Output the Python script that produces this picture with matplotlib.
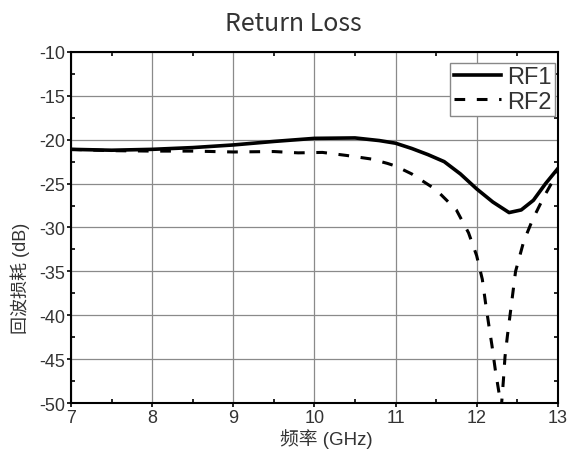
import matplotlib
matplotlib.use("Agg")
import matplotlib.pyplot as plt
from matplotlib.ticker import MultipleLocator

# values
rf1_freq = [7.0, 7.5, 8.0, 8.5, 9.0, 9.5, 10.0, 10.5, 10.8, 11.0, 11.2, 11.4,
            11.6, 11.8, 12.0, 12.2, 12.4, 12.55, 12.7, 12.85, 13.0]
rf1_loss = [-21.1, -21.2, -21.1, -20.9, -20.6, -20.2, -19.85, -19.8, -20.1, -20.4,
            -21.0, -21.7, -22.5, -23.9, -25.6, -27.1, -28.3, -28.0, -26.9, -25.0, -23.3]

rf2_freq = [7.0, 7.5, 8.0, 8.5, 9.0, 9.5, 9.8, 10.1, 10.4, 10.7, 10.9, 11.0, 11.2,
            11.5, 11.75, 11.9, 12.0, 12.07, 12.11, 12.15, 12.19, 12.23, 12.27, 12.305,
            12.33, 12.35, 12.38, 12.42, 12.48, 12.58, 12.69, 12.83, 13.0]
rf2_loss = [-21.1, -21.25, -21.3, -21.3, -21.4, -21.35, -21.5, -21.45, -21.8, -22.2,
            -22.7, -23.0, -23.9, -25.7, -28.0, -30.6, -33.2, -35.9, -38.6, -41.1,
            -43.5, -46.2, -48.5, -50.4, -47.4, -44.7, -42.3, -39.4, -35.0, -31.6,
            -29.1, -26.5, -23.7]

labels = ["RF1", "RF2"]
x_ticks = [7, 8, 9, 10, 11, 12, 13]
y_ticks = [-50, -45, -40, -35, -30, -25, -20, -15, -10]

plt.rcParams['axes.unicode_minus'] = False
tick_font = ['Liberation Sans', 'Noto Sans CJK SC']
text_color = '#333333'

fig = plt.figure(figsize=(5.75, 4.52), dpi=100)
ax = fig.add_axes([0.1235, 0.106, 0.8465, 0.777])

ax.plot(rf1_freq, rf1_loss, color='black', lw=2.6, label=labels[0])
ax.plot(rf2_freq, rf2_loss, color='black', lw=2.2, dashes=(3.5, 3.8), label=labels[1])

ax.set_xlim(7, 13)
ax.set_ylim(-50, -10)
ax.set_xticks(x_ticks)
ax.set_yticks(y_ticks)
ax.xaxis.set_minor_locator(MultipleLocator(0.5))
ax.yaxis.set_minor_locator(MultipleLocator(2.5))
ax.grid(True, which='major', color='#8a8a8a', lw=0.9)
ax.set_axisbelow(True)

ax.tick_params(which='major', direction='out', length=3, width=1.2,
               labelsize=13, labelcolor=text_color, pad=1)
ax.tick_params(which='minor', direction='in', length=3, width=1.2,
               top=True, right=True)
for lab in ax.get_xticklabels() + ax.get_yticklabels():
    lab.set_family(tick_font)
for sp in ax.spines.values():
    sp.set_linewidth(1.5)

leg = ax.legend(loc='upper right', bbox_to_anchor=(0.994, 0.969), borderaxespad=0,
                fancybox=False, framealpha=1, edgecolor='#888888',
                prop={'family': tick_font, 'size': 17}, handlelength=2.0,
                handletextpad=0.25, labelspacing=0.1, borderpad=0.15)
for t in leg.get_texts():
    t.set_color(text_color)

fig.text(0.51, 0.946, "Return Loss", ha='center', va='center', fontsize=18,
         color=text_color, family=['Noto Sans CJK SC', 'DejaVu Sans'])
fig.text(0.567, 0.028, "频率 (GHz)", ha='center', va='center', fontsize=13.5,
         color=text_color, family=['Liberation Sans', 'Noto Sans CJK SC'])
fig.text(0.035, 0.385, "回波损耗 (dB)", ha='center', va='center', rotation=90,
         fontsize=13, color=text_color, family=['Liberation Sans', 'Noto Sans CJK SC'])

fig.savefig("out.png", dpi=100)
